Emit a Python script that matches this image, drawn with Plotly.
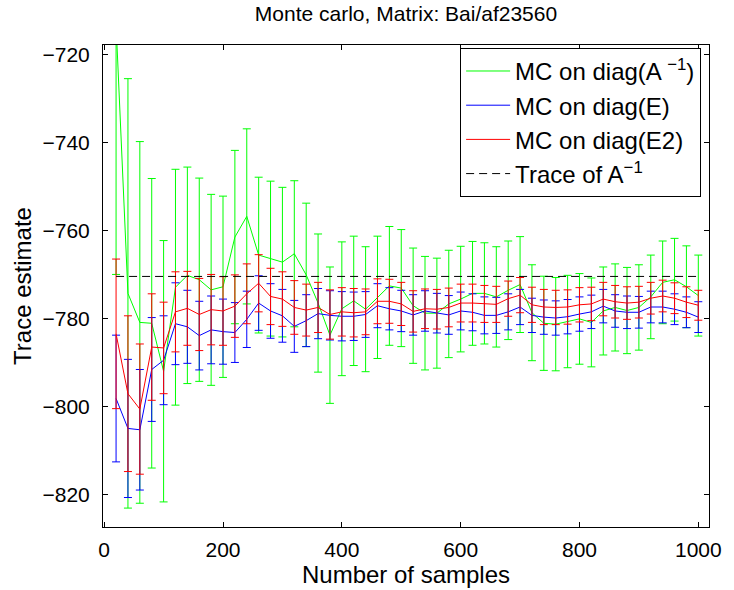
import plotly.graph_objects as go

samples = list(range(20, 1001, 20))

green_mean = [-713.0, -774.2, -780.8, -781.0, -791.9, -772.8, -770.1, -771.1, -773.4, -772.7,
              -761.4, -756.7, -765.5, -766.3, -767.1, -765.2, -770.0, -776.4, -783.7, -777.7,
              -775.9, -777.8, -775.1, -772.5, -773.0, -777.0, -778.7, -778.7, -776.6, -775.5,
              -774.2, -774.2, -775.0, -773.5, -772.2, -778.6, -781.0, -781.2, -780.6, -780.0,
              -780.8, -778.2, -777.4, -778.1, -777.4, -775.0, -771.7, -771.1, -772.7, -774.7]
green_err = [56.9, 48.8, 41.1, 32.9, 29.7, 26.8, 24.6, 23.1, 21.7, 20.6,
             19.7, 19.9, 17.7, 17.6, 17.0, 16.6, 16.3, 15.7, 15.5, 15.2,
             14.7, 14.2, 13.9, 13.5, 13.3, 13.1, 12.9, 12.5, 12.2, 12.0,
             11.8, 11.5, 11.4, 11.2, 10.9, 10.9, 10.7, 10.6, 10.5, 10.3,
             10.1, 10.0, 9.9, 9.8, 9.7, 9.5, 9.4, 9.4, 9.3, 9.2]

blue_mean = [-798.1, -804.9, -805.2, -791.5, -789.4, -781.1, -781.8, -783.8, -782.5, -782.9,
             -783.1, -780.1, -776.4, -778.2, -779.3, -781.7, -780.4, -778.8, -779.2, -779.4,
             -779.4, -779.0, -777.0, -777.7, -778.2, -779.1, -778.2, -778.7, -779.1, -778.2,
             -778.5, -779.2, -779.2, -778.4, -777.3, -779.2, -779.6, -779.8, -779.5, -778.9,
             -778.4, -777.1, -778.2, -778.5, -778.5, -777.3, -777.3, -777.8, -778.5, -779.6]
blue_err = [14.4, 15.7, 13.7, 11.8, 10.1, 9.3, 8.3, 7.8, 7.7, 7.4,
            6.8, 6.4, 6.2, 6.2, 6.0, 5.9, 5.9, 5.7, 5.6, 5.6,
            5.5, 5.2, 5.0, 4.8, 4.7, 4.6, 4.6, 4.5, 4.4, 4.3,
            4.2, 4.2, 4.1, 4.1, 4.0, 3.9, 3.9, 3.9, 3.9, 3.9,
            3.8, 3.8, 3.7, 3.7, 3.6, 3.6, 3.6, 3.5, 3.5, 3.5]

red_mean = [-783.4, -797.0, -800.5, -786.4, -786.6, -778.4, -777.6, -779.0, -777.9, -778.2,
            -777.1, -774.3, -771.9, -774.9, -775.5, -777.4, -778.0, -777.4, -779.0, -778.4,
            -778.6, -778.4, -776.0, -776.0, -776.6, -778.3, -777.7, -777.8, -777.4, -776.4,
            -776.4, -776.6, -776.7, -775.4, -774.6, -776.8, -777.3, -777.4, -777.3, -776.8,
            -776.6, -775.5, -776.1, -776.4, -776.2, -775.3, -774.8, -775.3, -776.2, -776.9]
red_err = [17.0, 17.7, 14.8, 12.1, 10.4, 9.1, 8.4, 8.2, 8.0, 7.8,
           7.1, 6.8, 6.5, 6.4, 6.2, 6.1, 5.9, 5.7, 5.6, 5.5,
           5.5, 5.2, 5.1, 5.0, 4.9, 4.7, 4.5, 4.5, 4.4, 4.3,
           4.3, 4.2, 4.1, 4.0, 4.0, 4.0, 4.0, 3.9, 3.9, 3.9,
           3.8, 3.8, 3.7, 3.7, 3.6, 3.6, 3.6, 3.5, 3.5, 3.4]

trace_value = -770.35
trace_line = [trace_value] * len(samples)

names = ["MC on diag(A <sup>−1</sup>)", "MC on diag(E)", "MC on diag(E2)", "Trace of A<sup>−1</sup>"]
FONT = "Liberation Sans, Arial, Helvetica, sans-serif"

fig = go.Figure()
for mean, err, col, name in [(green_mean, green_err, "#00ff00", names[0]),
                              (blue_mean, blue_err, "#0000ff", names[1]),
                              (red_mean, red_err, "#ff0000", names[2])]:
    fig.add_trace(go.Scatter(
        x=samples, y=mean, mode="lines", name=name,
        line=dict(color=col, width=1),
        error_y=dict(type="data", array=err, symmetric=True, color=col, thickness=1, width=4),
    ))

fig.add_trace(go.Scatter(
    x=samples, y=trace_line, mode="lines", name=names[3],
    line=dict(color="black", width=1, dash="8px,5px"),
))

axis_common = dict(
    showline=True, linecolor="black", linewidth=1, mirror="ticks",
    ticks="inside", ticklen=5, tickcolor="black", showgrid=False, zeroline=False,
    tickfont=dict(family=FONT, size=21, color="black"),
)

fig.update_layout(
    width=734, height=590, autosize=False,
    margin=dict(l=103, r=19, t=45, b=59),
    paper_bgcolor="white", plot_bgcolor="white",
    font=dict(family=FONT, color="black"),
    title=dict(text="Monte carlo, Matrix: Bai/af23560", x=0.5, xref="paper", xanchor="center",
               y=0.977, yref="container", yanchor="middle", pad=dict(t=0, b=0),
               font=dict(family=FONT, size=21, color="black")),
    xaxis=dict(range=[-2, 1018], tickvals=[0, 200, 400, 600, 800, 1000],
               ticklabelstandoff=4,
               title=dict(text="Number of samples", standoff=0, font=dict(family=FONT, size=24)),
               **axis_common),
    yaxis=dict(range=[-827.3, -717.75], tickvals=[-820, -800, -780, -760, -740, -720],
               ticklabelstandoff=8,
               title=dict(text="Trace estimate", standoff=4, font=dict(family=FONT, size=24)),
               **axis_common),
    legend=dict(x=0.987, y=0.994, xanchor="right", yanchor="top",
                bordercolor="black", borderwidth=1, bgcolor="white",
                font=dict(family=FONT, size=24, color="black"),
                tracegroupgap=0, itemwidth=44),
    showlegend=True,
)

fig.write_html("out.html")
